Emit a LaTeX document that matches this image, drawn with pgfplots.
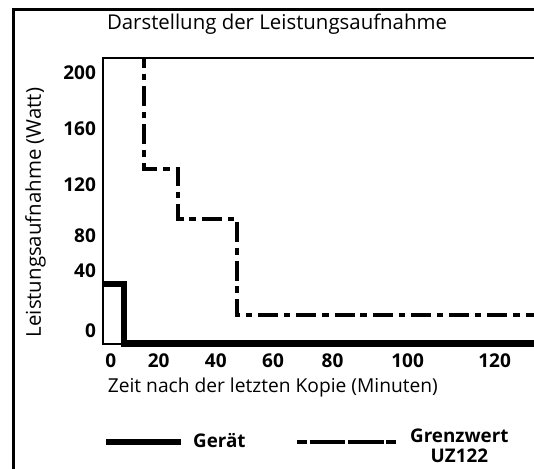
\documentclass[border=0pt]{standalone}
\usepackage{fontspec}
\setmainfont{Open Sans}
\usepackage{pgfplots}
\pgfplotsset{compat=1.18}
\begin{document}
\begin{tikzpicture}
\path[use as bounding box] (0,0) rectangle (267pt,234pt);
\clip (0,0) rectangle (267pt,234pt);
\draw[line width=1.5pt] (6.75pt,-20pt) rectangle (320pt,229.25pt);
\begin{axis}[
  at={(51.5pt,62pt)}, anchor=south west,
  scale only axis, width=233.5pt, height=143pt,
  xmin=0, xmax=145.9, ymin=0, ymax=204.3,
  clip=false,
  axis line style={line width=1.15pt},
  tick style={draw=none},
  major tick length=0pt,
  xtick={2.41,17.41,35.25,53.13,71.72,95.16,122.34},
  xticklabels={0,20,40,60,80,100,120},
  ytick={9.5,52.1,77.4,113.6,154.1,193.9},
  yticklabels={0,40,80,120,160,200},
  /pgf/number format/assume math mode=true,
  ticklabel style={font=\bfseries\fontsize{9.5}{10}\selectfont},
  xticklabel style={yshift=-1.3pt},
  title={Darstellung der Leistungsaufnahme},
  title style={at={(axis description cs:0.3726,1.056)}, anchor=base, yshift=0pt, inner sep=0pt, font=\fontsize{10.2}{12}\selectfont},
  xlabel={Zeit nach der letzten Kopie (Minuten)},
  xlabel style={at={(axis description cs:0.0096,-0.1678)}, anchor=base west, inner sep=0pt, font=\fontsize{9.6}{11}\selectfont},
  ylabel={Leistungsaufnahme (Watt)},
  ylabel style={at={(axis description cs:-0.1328,0.4598)}, anchor=base, inner sep=0pt, font=\fontsize{10.2}{12}\selectfont},
  legend columns=2,
  legend style={draw=none, fill=none, at={(axis description cs:0,-0.3427)}, anchor=west,
    inner sep=0pt, outer sep=0pt, font=\bfseries\fontsize{9.4}{10}\selectfont,
    nodes={inner sep=0pt, anchor=west},
    /tikz/every odd column/.append style={column sep=4.3pt},
    /tikz/every even column/.append style={column sep=24.8pt}},
]
\addplot[black, line width=3.3pt, line join=miter,
  legend image code/.code={\draw[black, line width=3.3pt] (0pt,0pt) -- (37.5pt,0pt);}]
  coordinates {(0,42.86) (6.56,42.86) (6.56,0.5) (145.9,0.5)};
\addlegendentry{Gerät}
\addplot[black, line width=2pt, line join=miter,
  dash pattern=on 10pt off 2.9pt on 3.2pt off 3pt, dash phase=5pt,
  legend image code/.code={\draw[black, line width=2pt, dash pattern=on 10pt off 2.9pt on 3.2pt off 3pt, dash phase=12.9pt] (0pt,0pt) -- (47.5pt,0pt); \path (0pt,0pt) -- (51.2pt,0pt);}]
  coordinates {(12.66,204.3) (12.66,125.2) (23.53,125.2) (23.53,89.29) (41.72,89.29) (41.72,20.5) (145.9,20.5)};
\addlegendentry{\begin{tabular}{@{}c@{}}Grenzwert\\UZ122\end{tabular}}
\end{axis}
\end{tikzpicture}
\end{document}
